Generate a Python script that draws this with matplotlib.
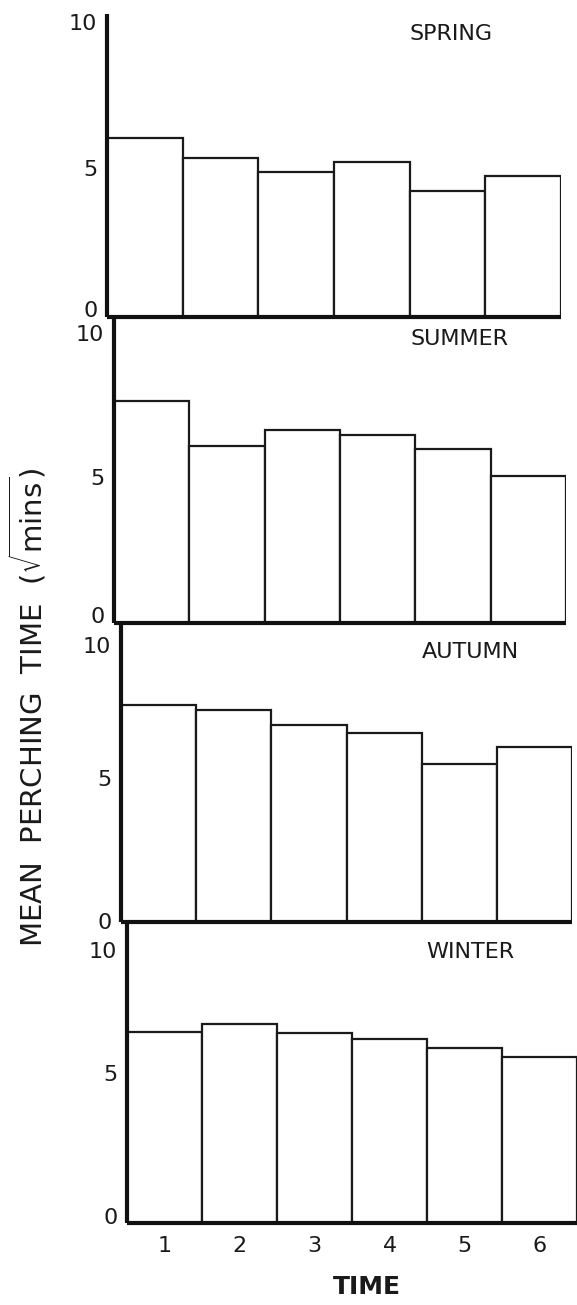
import matplotlib
matplotlib.use("Agg")
import matplotlib.pyplot as plt
from matplotlib.transforms import ScaledTranslation

# Mean perching time (square-root minutes) for six time periods, by season
seasons = ["SPRING", "SUMMER", "AUTUMN", "WINTER"]
time_labels = ["1", "2", "3", "4", "5", "6"]
spring = [6.17, 5.48, 5.00, 5.34, 4.34, 4.86]
summer = [7.66, 6.10, 6.66, 6.48, 6.00, 5.07]
autumn = [7.48, 7.31, 6.79, 6.52, 5.45, 6.03]
winter = [6.59, 6.86, 6.55, 6.34, 6.03, 5.72]
y_ticks = [0, 5, 10]

W, H = 577, 1305
DPI = 100
PX_PER_UNIT = 29.0

# panel boxes in pixels: left, right, top, bottom
boxes = [(107, 561, 14, 317), (114, 566, 317, 623),
         (121, 572, 623, 922), (127, 577, 922, 1223)]
# fine vertical nudges (pixels, up positive) for the 0 / 5 / 10 labels
label_nudges = [(8, 4, 5), (8, 1, 0), (1, -1, -13), (7, 5, -17)]
title_pos = [(451, 34), (460, 339), (470, 652), (470, 952)]

fig = plt.figure(figsize=(W / DPI, H / DPI), dpi=DPI)
fig.patch.set_facecolor("white")

series = [spring, summer, autumn, winter]
xs = list(range(1, len(time_labels) + 1))

for i, (vals, box) in enumerate(zip(series, boxes)):
    left, right, top, bottom = box
    ax = fig.add_axes([left / W, 1 - bottom / H, (right - left) / W, (bottom - top) / H])
    ax.set_facecolor("none")
    ax.bar(xs, vals, width=1.0, color="white", edgecolor="#1a1a1a",
           linewidth=1.6, zorder=1)
    ax.set_xlim(0.5, len(xs) + 0.5)
    ax.set_ylim(0, (bottom - top) / PX_PER_UNIT)
    for s in ("top", "right"):
        ax.spines[s].set_visible(False)
    for s in ("left", "bottom"):
        ax.spines[s].set_linewidth(3.0)
        ax.spines[s].set_color("#111111")
        ax.spines[s].set_capstyle("butt")
    ax.set_yticks(y_ticks)
    ax.set_yticklabels([str(t) for t in y_ticks])
    ax.tick_params(axis="y", length=0, pad=7, labelsize=16, colors="#1a1a1a")
    for lab, dy in zip(ax.get_yticklabels(), label_nudges[i]):
        lab.set_transform(lab.get_transform() +
                          ScaledTranslation(0, dy / DPI, fig.dpi_scale_trans))
    if i == len(series) - 1:
        ax.set_xticks(xs)
        ax.set_xticklabels(time_labels)
        ax.tick_params(axis="x", length=0, pad=9, labelsize=16, colors="#1a1a1a")
    else:
        ax.set_xticks([])
    tx, ty = title_pos[i]
    fig.text(tx / W, 1 - ty / H, seasons[i], ha="center", va="center",
             fontsize=16, color="#1a1a1a")

fig.text(28 / W, 1 - 707 / H, r"MEAN  PERCHING  TIME  ($\sqrt{\mathrm{mins}}$)",
         rotation=90, ha="center", va="center", fontsize=21, color="#1a1a1a")
fig.text(367 / W, 1 - 1287 / H, "TIME", ha="center", va="center",
         fontsize=18, fontweight="bold", color="#1a1a1a")

fig.savefig("out.png", dpi=DPI, facecolor="white")
